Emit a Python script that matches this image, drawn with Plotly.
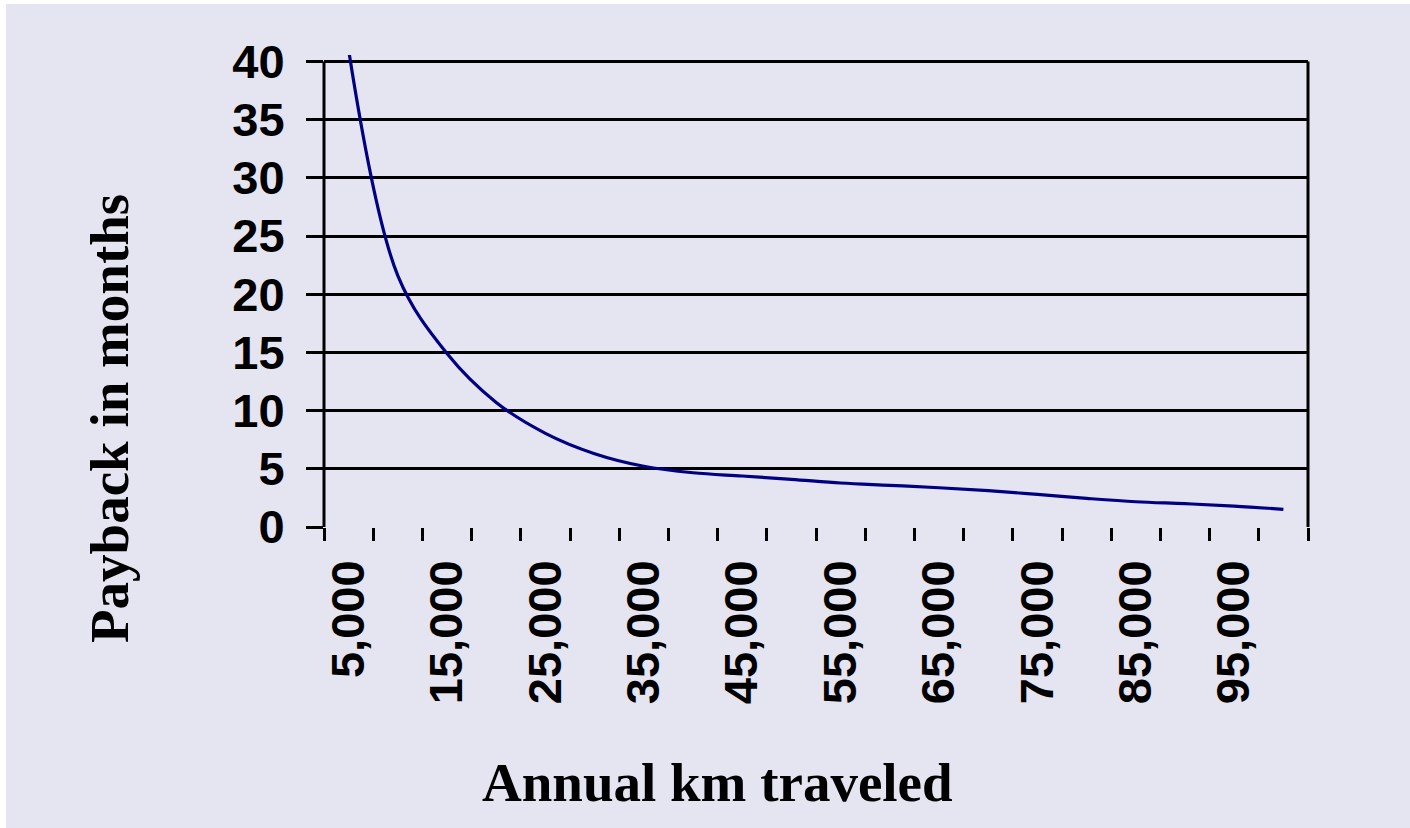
import plotly.graph_objects as go

# ---- data ----
km = [5000, 10000, 15000, 20000, 25000, 30000, 35000, 40000, 45000, 50000,
      55000, 60000, 65000, 70000, 75000, 80000, 85000, 90000, 95000, 100000]
payback = [41.0, 21.6, 14.9, 10.7, 8.05, 6.3, 5.22, 4.66, 4.38, 4.1,
           3.78, 3.58, 3.37, 3.12, 2.8, 2.46, 2.17, 2.0, 1.8, 1.52]
x_tickvals = [5000, 15000, 25000, 35000, 45000, 55000, 65000, 75000, 85000, 95000]
x_ticktext = ["5,000", "15,000", "25,000", "35,000", "45,000",
              "55,000", "65,000", "75,000", "85,000", "95,000"]
y_tickvals = [0, 5, 10, 15, 20, 25, 30, 35, 40]

BG = "#E5E4F1"
W, H = 1410, 828
L, R, T, B = 324, 102, 55, 301

fig = go.Figure()
fig.add_trace(go.Scatter(
    x=km, y=payback, mode="lines",
    line=dict(color="#000080", width=3.2, shape="spline", smoothing=1.0),
    hoverinfo="skip", showlegend=False,
))

def px_x(p):
    return (p - L) / (W - L - R)

def px_y(p):
    return (H - B - p) / (H - T - B)

shapes = [
    # white frame strips (top and left)
    dict(type="rect", xref="paper", yref="paper", x0=px_x(0), x1=px_x(W), y0=px_y(4), y1=px_y(0),
         fillcolor="white", line=dict(width=0), layer="below"),
    dict(type="rect", xref="paper", yref="paper", x0=px_x(0), x1=px_x(6), y0=px_y(H), y1=px_y(0),
         fillcolor="white", line=dict(width=0), layer="below"),
    # left and right vertical borders
    dict(type="line", xref="paper", yref="y", x0=0, x1=0, y0=0, y1=40,
         line=dict(color="black", width=3)),
    dict(type="line", xref="paper", yref="y", x0=1, x1=1, y0=0, y1=40,
         line=dict(color="black", width=3)),
]

fig.update_layout(
    width=W, height=H,
    margin=dict(l=L, r=R, t=T, b=B, pad=0),
    paper_bgcolor=BG, plot_bgcolor=BG,
    shapes=shapes,
    xaxis=dict(
        range=[2500, 102500], showgrid=False, zeroline=False, showline=False,
        tickmode="array", tickvals=x_tickvals, ticktext=x_ticktext,
        ticks="", tickangle=-90,
        tickfont=dict(family="Liberation Sans, Arial", size=47, color="black", weight="bold"),
        ticklabelstandoff=23,
        minor=dict(ticks="outside", tick0=2500, dtick=5000, ticklen=13, tickwidth=3,
                   tickcolor="black", showgrid=False),
    ),
    yaxis=dict(
        range=[0, 40.55], showline=False, zeroline=False,
        tickmode="array", tickvals=y_tickvals,
        showgrid=True, gridcolor="black", gridwidth=3,
        ticks="outside", ticklen=17, tickwidth=3, tickcolor="black",
        tickfont=dict(family="Liberation Sans, Arial", size=47, color="black", weight="bold"),
        ticklabelstandoff=12,
    ),
    annotations=[
        dict(text="Payback in months", xref="paper", yref="paper",
             x=px_x(109), y=px_y(419), showarrow=False, textangle=-90,
             xanchor="center", yanchor="middle",
             font=dict(family="Liberation Serif, Times New Roman", size=55, color="black", weight="bold")),
        dict(text="Annual km traveled", xref="paper", yref="paper",
             x=px_x(717), y=px_y(782), showarrow=False,
             xanchor="center", yanchor="middle",
             font=dict(family="Liberation Serif, Times New Roman", size=55, color="black", weight="bold")),
    ],
)

fig.write_html(
    "out.html", config={"displayModeBar": False},
    post_script=("document.body.style.margin='0px';"
                 "document.body.style.overflow='hidden';"
                 "document.body.style.background='#E5E4F1';"
                 "document.documentElement.style.background='#E5E4F1';"),
)
